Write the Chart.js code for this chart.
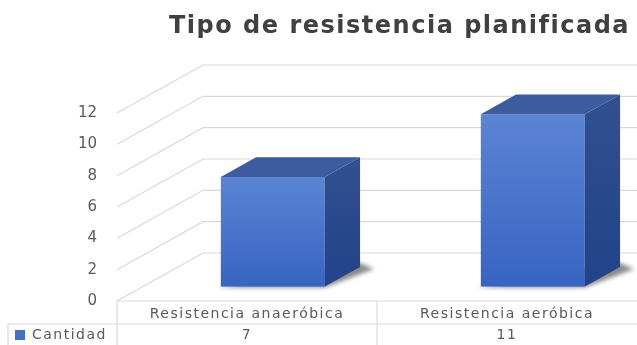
<!DOCTYPE html>
<html>
<head>
<meta charset="utf-8">
<script src="https://cdn.jsdelivr.net/npm/chart.js@4.4.1/dist/chart.umd.min.js"></script>
<style>
  html, body { margin: 0; padding: 0; background: #fff; }
  #grafico { display: block; }
</style>
</head>
<body>
<canvas id="grafico" width="637" height="345"></canvas>
<script>
// datos
const categorias = ['Resistencia anaeróbica', 'Resistencia aeróbica'];
const cantidad = [7, 11];
const serieNombre = 'Cantidad';
const ticksY = [0, 2, 4, 6, 8, 10, 12];
const titulo = 'Tipo de resistencia planificada';

// profundidad 3D (piso) y posición de la barra en la profundidad
const PROF_X = 86, PROF_Y = 48;
const BARRA_INI = 0.3, BARRA_FIN = 0.71;
const GRIS_LINEA = '#d9d9d9';
const GRIS_TEXTO = '#595959';
const FUENTE = '"DejaVu Sans", sans-serif';

const efecto3D = {
  id: 'efecto3D',
  beforeDatasetsDraw(chart) {
    const { ctx, chartArea, scales: { y } } = chart;
    ctx.save();
    ctx.strokeStyle = GRIS_LINEA;
    ctx.lineWidth = 1.2;
    ticksY.forEach(v => {
      const py = y.getPixelForValue(v);
      ctx.beginPath();
      ctx.moveTo(chartArea.left, py);
      ctx.lineTo(chartArea.left + PROF_X, py - PROF_Y);
      ctx.lineTo(chart.width, py - PROF_Y);
      ctx.stroke();
    });
    ctx.restore();
  },
  afterDatasetsDraw(chart) {
    const { ctx, scales: { y } } = chart;
    const meta = chart.getDatasetMeta(0);
    const base = y.getPixelForValue(0);
    meta.data.forEach((bar, i) => {
      const top = y.getPixelForValue(cantidad[i]);
      const izq = bar.x - bar.width / 2;
      const der = bar.x + bar.width / 2;
      const fx = BARRA_INI * PROF_X, fy = BARRA_INI * PROF_Y;
      const bx = BARRA_FIN * PROF_X, by = BARRA_FIN * PROF_Y;

      // sombra en la base
      ctx.save();
      ctx.fillStyle = 'rgba(40,40,40,0.55)';
      ctx.filter = 'blur(2px)';
      ctx.beginPath();
      ctx.moveTo(izq + fx - 4, base - fy + 1);
      ctx.lineTo(der + fx, base - fy + 1);
      ctx.lineTo(der + bx + 14, base - by + 2);
      ctx.lineTo(der + bx, base - by - 4);
      ctx.closePath();
      ctx.fill();
      ctx.restore();

      // cara frontal
      const grad = ctx.createLinearGradient(0, top - fy, 0, base - fy);
      grad.addColorStop(0, '#5b84d4');
      grad.addColorStop(1, '#3764c2');
      ctx.fillStyle = grad;
      ctx.fillRect(izq + fx, top - fy, der - izq, base - top);

      // cara lateral
      const gradL = ctx.createLinearGradient(0, top - by, 0, base - fy);
      gradL.addColorStop(0, '#30508f');
      gradL.addColorStop(1, '#22428a');
      ctx.fillStyle = gradL;
      ctx.beginPath();
      ctx.moveTo(der + fx, top - fy);
      ctx.lineTo(der + bx, top - by);
      ctx.lineTo(der + bx, base - by);
      ctx.lineTo(der + fx, base - fy);
      ctx.closePath();
      ctx.fill();

      // cara superior
      ctx.fillStyle = '#3c5c9f';
      ctx.beginPath();
      ctx.moveTo(izq + fx, top - fy);
      ctx.lineTo(izq + bx, top - by);
      ctx.lineTo(der + bx, top - by);
      ctx.lineTo(der + fx, top - fy);
      ctx.closePath();
      ctx.fill();
    });

    dibujarTabla(chart);
    dibujarTitulo(chart);
  }
};

function dibujarTitulo(chart) {
  const ctx = chart.ctx;
  ctx.save();
  ctx.fillStyle = '#404040';
  ctx.font = 'bold 24px ' + FUENTE;
  ctx.letterSpacing = '1.5px';
  ctx.textAlign = 'left';
  ctx.textBaseline = 'alphabetic';
  ctx.fillText(titulo, 169, 33);
  ctx.restore();
}

function dibujarTabla(chart) {
  const { ctx, chartArea, scales: { x } } = chart;
  const y0 = chartArea.bottom;
  const yFila = y0 + 23;
  const xIzq = 8;
  ctx.save();
  ctx.strokeStyle = GRIS_LINEA;
  ctx.lineWidth = 1.2;
  ctx.beginPath();
  ctx.moveTo(chartArea.left, y0); ctx.lineTo(chart.width, y0);
  ctx.moveTo(xIzq, yFila); ctx.lineTo(chart.width, yFila);
  ctx.moveTo(chartArea.left, y0); ctx.lineTo(chartArea.left, chart.height);
  ctx.moveTo(xIzq, yFila); ctx.lineTo(xIzq, chart.height);
  const medio = (x.getPixelForValue(0) + x.getPixelForValue(1)) / 2;
  ctx.moveTo(medio, y0); ctx.lineTo(medio, chart.height);
  ctx.stroke();

  ctx.fillStyle = GRIS_TEXTO;
  ctx.font = '14px ' + FUENTE;
  ctx.letterSpacing = '1.5px';
  ctx.textAlign = 'center';
  ctx.textBaseline = 'middle';
  categorias.forEach((c, i) => {
    const px = x.getPixelForValue(i);
    ctx.fillText(c, px, y0 + 13);
    ctx.fillText(String(cantidad[i]), px, yFila + 11);
  });

  // clave de la serie
  ctx.fillStyle = '#4472c4';
  ctx.fillRect(15, yFila + 6, 10, 10);
  ctx.fillStyle = GRIS_TEXTO;
  ctx.textAlign = 'left';
  ctx.fillText(serieNombre, 32, yFila + 11);
  ctx.restore();
}

const grafico = new Chart(document.getElementById('grafico'), {
  type: 'bar',
  data: {
    labels: categorias,
    datasets: [{
      label: serieNombre,
      data: cantidad,
      backgroundColor: 'rgba(0,0,0,0)',
      categoryPercentage: 0.8,
      barPercentage: 0.5
    }]
  },
  options: {
    responsive: false,
    animation: false,
    devicePixelRatio: 1,
    layout: { padding: { left: 0, right: 0, top: 113, bottom: 44 } },
    plugins: {
      legend: { display: false },
      tooltip: { enabled: false },
      title: { display: false }
    },
    scales: {
      x: { display: false, offset: true },
      y: {
        min: 0,
        max: 12,
        afterFit: s => { s.width = 117; },
        afterBuildTicks: s => { s.ticks = ticksY.map(v => ({ value: v })); },
        ticks: { color: GRIS_TEXTO, padding: 12, font: { family: FUENTE, size: 15 } },
        grid: { display: false },
        border: { display: false }
      }
    }
  },
  plugins: [efecto3D]
});
</script>
</body>
</html>
